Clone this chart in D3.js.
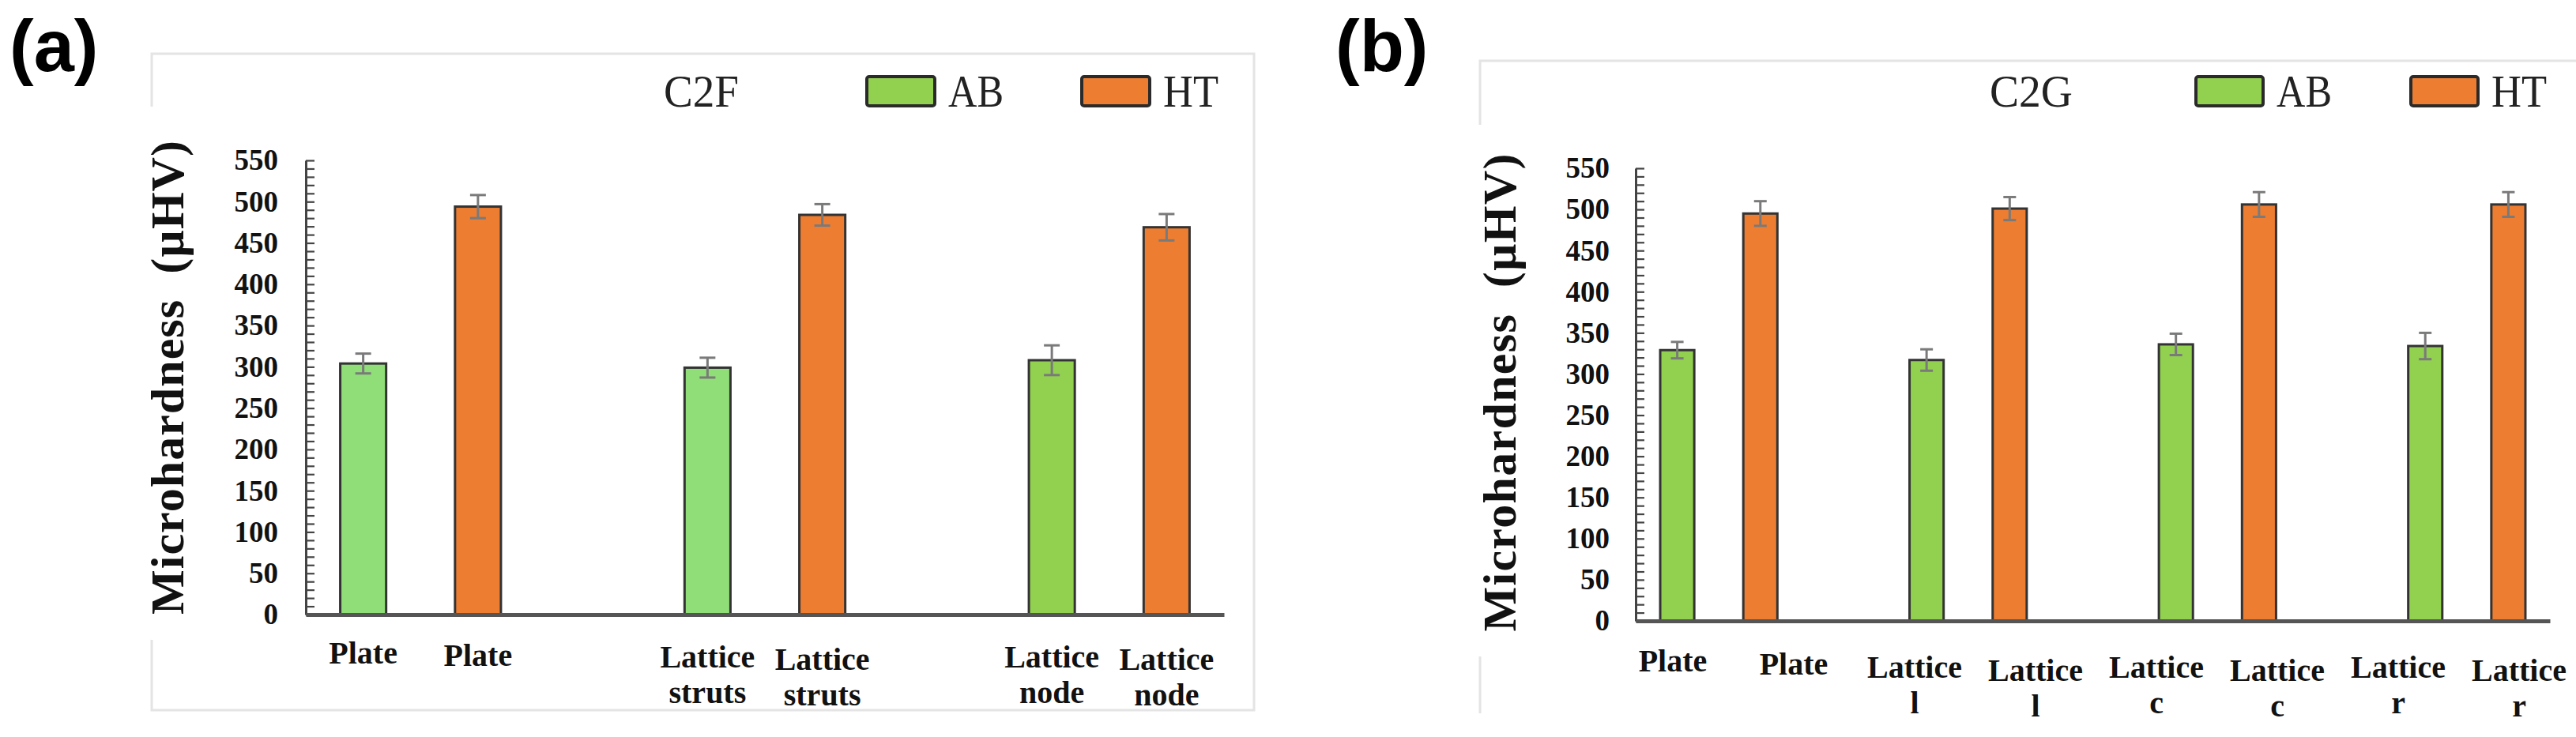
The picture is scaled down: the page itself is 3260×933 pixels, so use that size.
<!DOCTYPE html>
<html>
<head>
<meta charset="utf-8">
<script src="https://cdn.jsdelivr.net/npm/d3@7"></script>
<style>
  body { margin: 0; background: #fff; }
  svg { display: block; }
</style>
</head>
<body>
<script>
// panel (a) - C2F
const catsA = ['Plate', 'Lattice struts', 'Lattice node'];
const abA = [304, 299, 308];
const htA = [494, 484, 469];
const abErrA = [12, 12, 18];
const htErrA = [14, 13, 16];

// panel (b) - C2G
const catsB = ['Plate', 'Lattice l', 'Lattice c', 'Lattice r'];
const abB = [329, 317, 336, 334];
const htB = [495, 501, 506, 506];
const abErrB = [10, 13, 13, 16];
const htErrB = [15, 14, 15, 15];

const seriesNames = ['AB', 'HT'];
const yMajor = d3.range(0, 551, 50);
const yMinor = d3.range(0, 551, 10);

const green = '#92d050', greenLight = '#8fde78', orange = '#ed7d31';
const serif = "'Liberation Serif', 'Times New Roman', serif";

const svg = d3.select('body').append('svg')
    .attr('width', 3260)
    .attr('height', 933);

function drawPanel(cfg) {

    const g = svg.append('g');

    // light frame around the panel
    g.append('path')
        .attr('d', cfg.frame)
        .attr('fill', 'none')
        .attr('stroke', '#e4e4e4')
        .attr('stroke-width', 3);

    // panel letter
    g.append('text')
        .attr('x', cfg.letterX).attr('y', 90)
        .style('font-family', "'Liberation Sans', Arial, sans-serif")
        .attr('font-weight', 'bold')
        .attr('font-size', 92)
        .text(cfg.letter);

    // slots: AB, HT, gap for each category (no gap after the last)
    const slots = [];
    const bars = [];
    cfg.cats.forEach((c, i) => {
        slots.push(i + '-AB', i + '-HT');
        if (i < cfg.cats.length - 1) slots.push(i + '-gap');
        bars.push({ key: i + '-AB', cat: c, v: cfg.ab[i], e: cfg.abErr[i], s: 'AB', i: i });
        bars.push({ key: i + '-HT', cat: c, v: cfg.ht[i], e: cfg.htErr[i], s: 'HT', i: i });
    });

    const x = d3.scaleBand()
        .domain(slots)
        .range([cfg.x0, cfg.x1])
        .paddingInner(cfg.pad)
        .paddingOuter(cfg.pad / 2);

    const y = d3.scaleLinear()
        .domain([0, 550])
        .range([cfg.yBottom, cfg.yTop]);

    // y axis with minor ticks
    const yAx = g.append('g')
        .attr('transform', `translate(${cfg.x0},0)`)
        .call(d3.axisRight(y).tickValues(yMinor).tickSize(11).tickSizeOuter(0).tickFormat(''));
    yAx.selectAll('line').attr('stroke', '#444').attr('stroke-width', 2.2);
    yAx.select('.domain').attr('stroke', '#444').attr('stroke-width', 3);

    const yLab = g.append('g')
        .attr('transform', `translate(${cfg.x0},0)`)
        .call(d3.axisLeft(y).tickValues(yMajor).tickSize(0).tickPadding(cfg.labPad));
    yLab.select('.domain').remove();
    yLab.selectAll('text')
        .style('font-family', serif)
        .style('font-weight', 'bold')
        .style('font-size', '37px')
        .attr('fill', '#111');

    // y title
    g.append('text')
        .attr('transform', `translate(${cfg.titleX},${cfg.titleY}) rotate(-90)`)
        .attr('text-anchor', 'middle')
        .style('font-family', serif)
        .style('font-weight', 'bold')
        .style('font-size', '60px')
        .style('white-space', 'pre')
        .attr('textLength', cfg.titleLen)
        .attr('lengthAdjust', 'spacing')
        .attr('fill', '#111')
        .text('Microhardness  (µHV)');

    // bars
    g.selectAll('.bar')
        .data(bars).enter()
        .append('rect')
            .attr('class', 'bar')
            .attr('x', d => x(d.key))
            .attr('y', d => y(d.v))
            .attr('width', x.bandwidth())
            .attr('height', d => y(0) - y(d.v))
            .attr('fill', d => d.s === 'HT' ? orange : cfg.abColor[d.i])
            .attr('stroke', '#333')
            .attr('stroke-width', 3);

    // error bars
    const eb = g.selectAll('.err')
        .data(bars).enter()
        .append('g')
            .attr('class', 'err')
            .attr('stroke', '#7a7a7a')
            .attr('stroke-width', 3);
    eb.append('line')
        .attr('x1', d => x(d.key) + x.bandwidth() / 2)
        .attr('x2', d => x(d.key) + x.bandwidth() / 2)
        .attr('y1', d => y(d.v + d.e))
        .attr('y2', d => y(d.v - d.e));
    [1, -1].forEach(sgn => {
        eb.append('line')
            .attr('x1', d => x(d.key) + x.bandwidth() / 2 - cfg.cap)
            .attr('x2', d => x(d.key) + x.bandwidth() / 2 + cfg.cap)
            .attr('y1', d => y(d.v + sgn * d.e))
            .attr('y2', d => y(d.v + sgn * d.e));
    });

    // x axis line
    const xAx = g.append('g')
        .attr('transform', `translate(0,${cfg.yBottom})`)
        .call(d3.axisBottom(x).tickSize(0).tickSizeOuter(0).tickFormat(''));
    xAx.select('.domain').attr('stroke', '#555').attr('stroke-width', 5);

    // category labels
    const labX = cfg.labelScale
        ? d3.scalePoint().domain(bars.map(d => d.key)).range(cfg.labelScale)
        : (k => x(k) + x.bandwidth() / 2);

    const lab = g.selectAll('.xlab')
        .data(bars).enter()
        .append('text')
            .attr('class', 'xlab')
            .attr('text-anchor', 'middle')
            .style('font-family', serif)
            .style('font-weight', 'bold')
            .style('font-size', '40px')
            .attr('fill', '#111')
            .attr('transform', d => {
                const lines = d.cat.split(' ');
                const base = lines.length > 1 ? cfg.labY2 : cfg.labY1;
                return `translate(${labX(d.key)},${base + (d.s === 'HT' ? cfg.htDy : 0)})`;
            });
    lab.selectAll('tspan')
        .data(d => d.cat.split(' ')).enter()
        .append('tspan')
            .attr('x', 0)
            .attr('dy', (d, i) => i === 0 ? 0 : 45)
            .text(d => d);

    // legend / sample name
    g.append('text')
        .attr('x', cfg.nameX).attr('y', cfg.legY + 38)
        .style('font-family', serif).style('font-size', '56px')
        .attr('textLength', cfg.nameLen).attr('lengthAdjust', 'spacingAndGlyphs')
        .attr('fill', '#222')
        .text(cfg.name);

    const lg = g.selectAll('.lg')
        .data(seriesNames).enter()
        .append('g')
            .attr('class', 'lg')
            .attr('transform', (d, i) => `translate(${cfg.legX[i]},${cfg.legY})`);
    lg.append('rect')
        .attr('width', cfg.boxW).attr('height', 37)
        .attr('rx', 3)
        .attr('fill', (d, i) => i === 0 ? green : orange)
        .attr('stroke', '#2a2a2a')
        .attr('stroke-width', 4);
    lg.append('text')
        .attr('x', cfg.boxW + 17).attr('y', 38)
        .style('font-family', serif).style('font-size', '56px')
        .attr('textLength', 70).attr('lengthAdjust', 'spacingAndGlyphs')
        .attr('fill', '#222')
        .text(d => d);
}

drawPanel({
    letter: '(a)', letterX: 12,
    frame: 'M192,135 V68 H1587 V899 H192 V810',
    cats: catsA, ab: abA, ht: htA, abErr: abErrA, htErr: htErrA,
    abColor: [greenLight, greenLight, green],
    x0: 387, x1: 1549, yTop: 203, yBottom: 778, pad: 0.6, cap: 10,
    labPad: 35, titleX: 232, titleY: 478, titleLen: 600,
    labY1: 840, labY2: 845, htDy: 3,
    name: 'C2F', nameX: 840, nameLen: 95,
    legX: [1097, 1369], legY: 97, boxW: 86
});

drawPanel({
    letter: '(b)', letterX: 1690,
    frame: 'M1873,158 V77 H3260 M1873,831 V903',
    cats: catsB, ab: abB, ht: htB, abErr: abErrB, htErr: htErrB,
    abColor: [green, green, green, green],
    x0: 2070, x1: 3227, yTop: 213, yBottom: 786, pad: 0.59, cap: 8,
    labPad: 33, titleX: 1918, titleY: 497, titleLen: 605,
    labY1: 850, labY2: 858, htDy: 4,
    labelScale: [2117, 3188],
    name: 'C2G', nameX: 2518, nameLen: 105,
    legX: [2779, 3051], legY: 97, boxW: 85
});
</script>
</body>
</html>
